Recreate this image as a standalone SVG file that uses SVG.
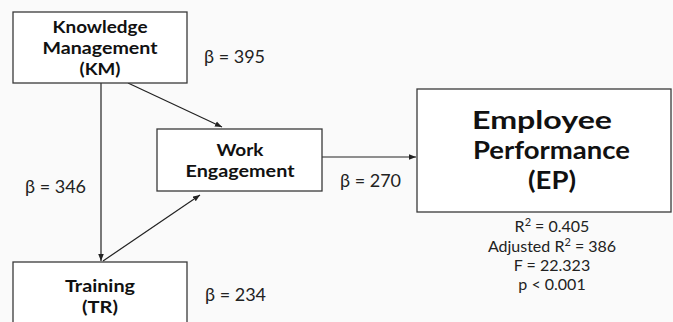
<svg xmlns="http://www.w3.org/2000/svg" width="673" height="322" viewBox="0 0 673 322">
  <defs>
    <marker id="arrow" viewBox="0 0 10 10" refX="10" refY="5" markerWidth="7" markerHeight="7" orient="auto" markerUnits="userSpaceOnUse">
      <path d="M0,1 L10,5 L0,9 Z" fill="#222"/>
    </marker>
    <style>
      .box { fill: #ffffff; stroke: #3a3a3a; stroke-width: 1.3; }
      .title { font-family: Lato, "Open Sans", sans-serif; font-weight: 700; fill: #111; text-anchor: middle; font-size: 17.5px; }
      .big { font-size: 24px; }
      .beta { font-family: Lato, "Open Sans", sans-serif; font-size: 18px; fill: #222; }
      .stat { font-family: Lato, "Open Sans", sans-serif; font-size: 16px; fill: #222; text-anchor: middle; }
      .sup { font-size: 11px; }
      .edge { stroke: #222; stroke-width: 1.2; fill: none; marker-end: url(#arrow); }
    </style>
  </defs>
  <rect width="673" height="322" fill="#fafafa"/>

  <g id="connectors">
    <line class="edge" x1="101" y1="83" x2="101" y2="261"/>
    <line class="edge" x1="128" y1="83" x2="222" y2="127"/>
    <line class="edge" x1="103" y1="261" x2="200" y2="195"/>
    <line class="edge" x1="322" y1="157" x2="416" y2="157"/>
  </g>

  <g id="node-km">
    <rect class="box" x="13" y="12" width="174" height="71"/>
    <text class="title" x="100" y="33" textLength="95" lengthAdjust="spacingAndGlyphs">Knowledge</text>
    <text class="title" x="100" y="54" textLength="115" lengthAdjust="spacingAndGlyphs">Management</text>
    <text class="title" x="100" y="75" textLength="41" lengthAdjust="spacingAndGlyphs">(KM)</text>
  </g>

  <g id="node-we">
    <rect class="box" x="157" y="129" width="165" height="62"/>
    <text class="title" x="240" y="156" textLength="47" lengthAdjust="spacingAndGlyphs">Work</text>
    <text class="title" x="240" y="177" textLength="109" lengthAdjust="spacingAndGlyphs">Engagement</text>
  </g>

  <g id="node-tr">
    <rect class="box" x="13" y="262" width="174" height="70"/>
    <text class="title" x="100" y="292" textLength="70" lengthAdjust="spacingAndGlyphs">Training</text>
    <text class="title" x="100" y="313" textLength="36" lengthAdjust="spacingAndGlyphs">(TR)</text>
  </g>

  <g id="node-ep">
    <rect class="box" x="417" y="89" width="254" height="123"/>
    <text class="title big" x="542" y="129" textLength="140" lengthAdjust="spacingAndGlyphs">Employee</text>
    <text class="title big" x="551.5" y="159" textLength="157" lengthAdjust="spacingAndGlyphs">Performance</text>
    <text class="title big" x="552" y="189" textLength="48" lengthAdjust="spacingAndGlyphs">(EP)</text>
  </g>

  <g id="labels">
    <text class="beta" x="204" y="63">β = 395</text>
    <text class="beta" x="25" y="193">β = 346</text>
    <text class="beta" x="205" y="301">β = 234</text>
    <text class="beta" x="340" y="187">β = 270</text>
  </g>

  <g id="ep-stats">
    <text class="stat" x="552" y="232">R<tspan class="sup" dy="-6">2</tspan><tspan dy="6"> = 0.405</tspan></text>
    <text class="stat" x="552" y="252">Adjusted R<tspan class="sup" dy="-6">2</tspan><tspan dy="6"> = 386</tspan></text>
    <text class="stat" x="552" y="271">F = 22.323</text>
    <text class="stat" x="552" y="290">p &lt; 0.001</text>
  </g>
</svg>
